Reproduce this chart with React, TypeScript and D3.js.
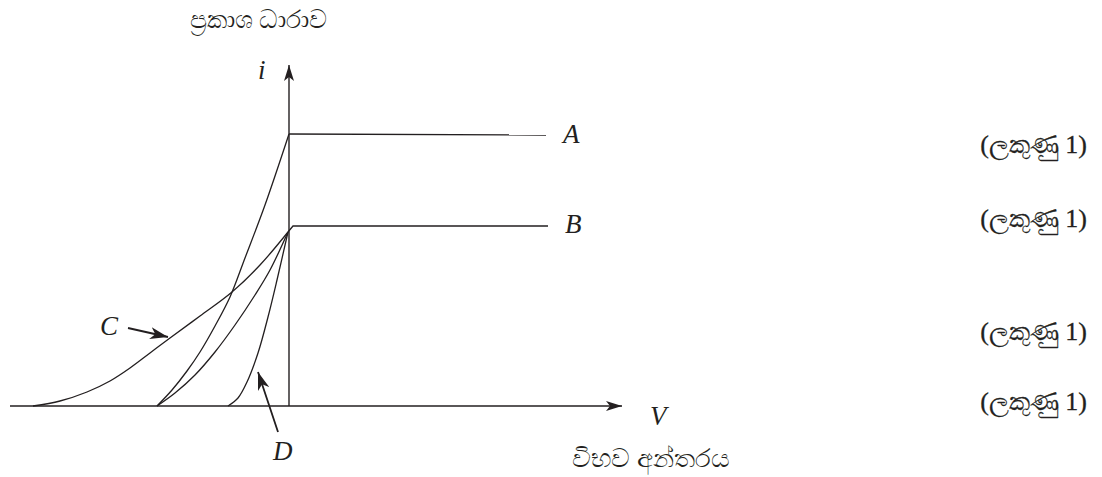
import { useEffect, useRef } from 'react';
import * as d3 from 'd3';

// photocurrent vs potential difference, [V, i]
const curveA = [[-1.32, 0], [-1.17, 0.16], [-1.02, 0.35], [-0.89, 0.54], [-0.74, 0.8], [-0.59, 1.09], [-0.44, 1.48], [-0.24, 2.01], [0, 2.72]];
const curveB = [[-1.32, 0], [-1.14, 0.13], [-0.94, 0.31], [-0.74, 0.54], [-0.54, 0.81], [-0.34, 1.11], [-0.19, 1.36], [-0.01, 1.74]];
const curveC = [[-2.56, 0], [-2.29, 0.05], [-2.02, 0.14], [-1.79, 0.25], [-1.59, 0.38], [-1.39, 0.53], [-1.19, 0.68], [-0.89, 0.9], [-0.57, 1.14], [-0.29, 1.41], [-0.01, 1.74]];
const curveD = [[-0.61, 0], [-0.51, 0.08], [-0.42, 0.24], [-0.31, 0.53], [-0.21, 0.89], [-0.12, 1.26], [-0.01, 1.74]];
const plateauA = [[0, 2.72], [2.57, 2.71]];
const plateauB = [[-0.01, 1.74], [0.04, 1.8], [2.59, 1.8]];

const curveLabels = [
  { text: 'A', v: 2.74, i: 2.63 },
  { text: 'B', v: 2.76, i: 1.73 },
  { text: 'C', v: -1.89, i: 0.71 },
  { text: 'D', v: -0.16, i: -0.54 },
];
// arrows pointing at C and D: [from, to]
const pointers = [
  [[-1.61, 0.78], [-1.21, 0.69]],
  [[-0.11, -0.26], [-0.31, 0.34]],
];
const markRows = [2.53, 1.79, 0.66, -0.04];
const markText = '(ලකුණු 1)';

export default function App() {
  const svgRef = useRef(null);

  useEffect(() => {
    document.body.style.margin = '0';
    const svg = d3.select(svgRef.current);
    svg.selectAll('*').remove();

    const x = d3.scaleLinear().domain([-2.79, 3.33]).range([10, 622]);
    const y = d3.scaleLinear().domain([0, 3.41]).range([406, 65]);
    const ink = '#231f20';
    const serif = '"Liberation Serif", "Times New Roman", serif';

    const defs = svg.append('defs');
    defs.append('marker')
      .attr('id', 'head')
      .attr('viewBox', '0 0 16 10')
      .attr('refX', 16).attr('refY', 5)
      .attr('markerWidth', 16).attr('markerHeight', 10)
      .attr('markerUnits', 'userSpaceOnUse')
      .attr('orient', 'auto')
      .append('path')
      .attr('d', 'M0,0 L16,5 L0,10 L4,5 Z')
      .attr('fill', ink);
    defs.append('marker')
      .attr('id', 'pointer')
      .attr('viewBox', '0 0 18 12')
      .attr('refX', 18).attr('refY', 6)
      .attr('markerWidth', 18).attr('markerHeight', 12)
      .attr('markerUnits', 'userSpaceOnUse')
      .attr('orient', 'auto')
      .append('path')
      .attr('d', 'M0,0 L18,6 L0,12 L5,6 Z')
      .attr('fill', ink);

    // axes
    svg.append('line')
      .attr('x1', x(-2.79)).attr('y1', y(0))
      .attr('x2', x(3.33)).attr('y2', y(0))
      .attr('stroke', ink).attr('stroke-width', 1.4)
      .attr('marker-end', 'url(#head)');
    svg.append('line')
      .attr('x1', x(0)).attr('y1', y(0))
      .attr('x2', x(0)).attr('y2', y(3.41))
      .attr('stroke', ink).attr('stroke-width', 1.4)
      .attr('marker-end', 'url(#head)');

    const smooth = d3.line().x(d => x(d[0])).y(d => y(d[1])).curve(d3.curveCatmullRom.alpha(0.5));
    const straight = d3.line().x(d => x(d[0])).y(d => y(d[1]));

    [curveA, curveB, curveC, curveD].forEach(c => {
      svg.append('path')
        .attr('d', smooth(c))
        .attr('fill', 'none').attr('stroke', ink).attr('stroke-width', 1.3);
    });
    [plateauA, plateauB].forEach(c => {
      svg.append('path')
        .attr('d', straight(c))
        .attr('fill', 'none').attr('stroke', ink).attr('stroke-width', 1.3);
    });

    pointers.forEach(([a, b]) => {
      svg.append('line')
        .attr('x1', x(a[0])).attr('y1', y(a[1]))
        .attr('x2', x(b[0])).attr('y2', y(b[1]))
        .attr('stroke', ink).attr('stroke-width', 1.8)
        .attr('marker-end', 'url(#pointer)');
    });

    const italic = (t, px, py) => svg.append('text')
      .attr('x', px).attr('y', py)
      .attr('font-family', serif).attr('font-style', 'italic')
      .attr('font-size', 27).attr('fill', ink)
      .text(t);

    curveLabels.forEach(l => italic(l.text, x(l.v), y(l.i)));
    italic('i', x(-0.31), y(3.27));
    italic('V', x(3.61), y(-0.19));

    svg.append('text')
      .attr('x', 190).attr('y', 28)
      .attr('font-family', serif).attr('font-size', 25).attr('fill', ink)
      .text('ප්‍රකාශ ධාරාව');
    svg.append('text')
      .attr('x', 572).attr('y', 467)
      .attr('font-family', serif).attr('font-size', 26).attr('fill', ink)
      .text('විභව අන්තරය');

    markRows.forEach(r => {
      svg.append('text')
        .attr('x', 1087).attr('y', y(r))
        .attr('text-anchor', 'end')
        .attr('font-family', serif).attr('font-size', 26).attr('fill', ink)
        .attr('stroke', ink).attr('stroke-width', 0.3)
        .text(markText);
    });
  }, []);

  return <svg ref={svgRef} width={1102} height={477} style={{ display: 'block', background: '#fff' }} />;
}
